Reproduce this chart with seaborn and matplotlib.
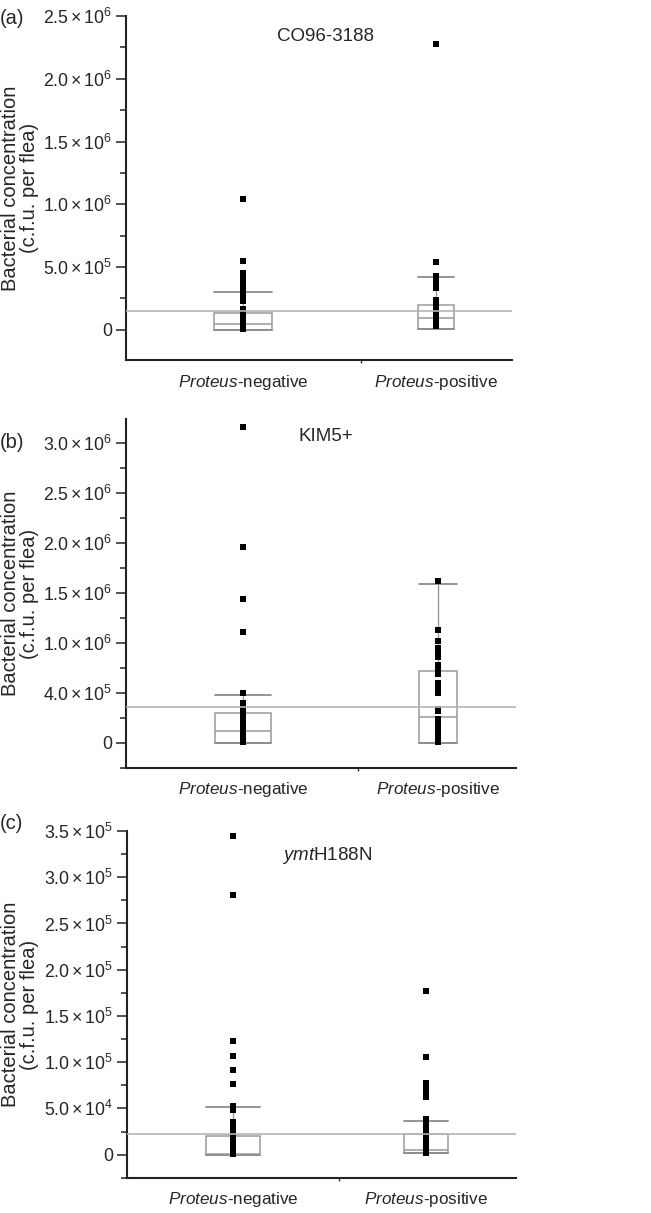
import pandas as pd
import seaborn as sns
import matplotlib.pyplot as plt
from matplotlib.ticker import FixedLocator, MultipleLocator

sns.set_style('ticks')
plt.rcParams['font.family'] = ['Liberation Sans', 'DejaVu Sans']
plt.rcParams['mathtext.fontset'] = 'custom'
plt.rcParams['mathtext.rm'] = 'Liberation Sans'
plt.rcParams['mathtext.it'] = 'Liberation Sans:italic'

groups = ['Proteus-negative', 'Proteus-positive']
group_labels = [r'$\mathit{Proteus}$-negative', r'$\mathit{Proteus}$-positive']

# (a) CO96-3188
a_neg = [1.04e6, 5.45e5, 4.5e5, 4.35e5, 4.2e5, 4.05e5, 3.9e5, 3.75e5, 3.6e5, 3.45e5, 3.3e5,
         2.9e5, 2.7e5, 2.5e5, 2.3e5, 1.7e5, 1.5e5, 1.3e5, 1.1e5, 9e4, 7e4, 5e4, 3e4, 1.5e4, 5e3]
a_pos = [2.28e6, 5.42e5, 4.3e5, 4.15e5, 4.0e5, 3.8e5, 3.6e5, 3.3e5, 2.4e5, 2.2e5, 2.0e5,
         1.7e5, 1.5e5, 1.3e5, 1.1e5, 9e4, 7e4, 5e4, 3e4]
a_q1 = [0, 1.0e4]
a_med = [5.0e4, 9.5e4]
a_q3 = [1.35e5, 2.0e5]
a_cap = [3.05e5, 4.18e5]
a_ref = 1.52e5
a_ticks = [0, 5e5, 1e6, 1.5e6, 2e6, 2.5e6]
a_ticklabels = ['0', r'$5.0\times10^{5}$', r'$1.0\times10^{6}$', r'$1.5\times10^{6}$',
                r'$2.0\times10^{6}$', r'$2.5\times10^{6}$']

# (b) KIM5+
b_neg = [3.16e6, 1.96e6, 1.44e6, 1.11e6, 5.0e5, 4.0e5, 3.7e5, 3.4e5, 3.1e5, 2.8e5, 2.5e5,
         2.2e5, 1.9e5, 1.6e5, 1.3e5, 1.0e5, 7e4, 4e4, 1e4]
b_pos = [1.62e6, 1.13e6, 1.02e6, 9.5e5, 9.0e5, 8.6e5, 7.8e5, 7.3e5, 6.9e5, 6.0e5, 5.6e5,
         5.0e5, 3.4e5, 3.2e5, 2.4e5, 2.0e5, 1.5e5, 1.1e5, 7e4, 3e4, 5e3]
b_q1 = [0, 0]
b_med = [1.17e5, 2.57e5]
b_q3 = [2.97e5, 7.17e5]
b_cap = [4.73e5, 1.59e6]
b_ref = 3.6e5
b_ticks = [0, 5e5, 1e6, 1.5e6, 2e6, 2.5e6, 3e6]
b_ticklabels = ['0', r'$4.0\times10^{5}$', r'$1.0\times10^{6}$', r'$1.5\times10^{6}$',
                r'$2.0\times10^{6}$', r'$2.5\times10^{6}$', r'$3.0\times10^{6}$']

# (c) ymtH188N
c_neg = [3.45e5, 2.81e5, 1.23e5, 1.07e5, 9.2e4, 7.6e4, 5.3e4, 4.8e4, 3.5e4, 3.2e4, 2.8e4,
         2.4e4, 2.1e4, 1.8e4, 1.5e4, 1.2e4, 9e3, 6e3, 3e3, 1e3]
c_pos = [1.77e5, 1.06e5, 7.8e4, 7.3e4, 7.0e4, 6.5e4, 6.2e4, 3.9e4, 3.6e4, 3.2e4, 2.8e4,
         2.4e4, 2.0e4, 1.6e4, 1.2e4, 8e3, 5e3, 2e3]
c_q1 = [0, 1.5e3]
c_med = [1.0e3, 4.7e3]
c_q3 = [1.98e4, 2.2e4]
c_cap = [5.16e4, 3.68e4]
c_ref = 2.27e4
c_ticks = [0, 5e4, 1e5, 1.5e5, 2e5, 2.5e5, 3e5, 3.5e5]
c_ticklabels = ['0', r'$5.0\times10^{4}$', r'$1.0\times10^{5}$', r'$1.5\times10^{5}$',
                r'$2.0\times10^{5}$', r'$2.5\times10^{5}$', r'$3.0\times10^{5}$',
                r'$3.5\times10^{5}$']

panels = [
    dict(tag='(a)', name='CO96-3188', neg=a_neg, pos=a_pos, q1=a_q1, med=a_med, q3=a_q3,
         cap=a_cap, ref=a_ref, ticks=a_ticks, labels=a_ticklabels, minor=2.5e5,
         ylim=(-2.4e5, 2.5e6), xlim=(-0.606, 1.394), widths=[0.30, 0.187], xmin=0.61,
         rect=[0.1935, 0.7032, 0.593, 0.2836], tag_y=0.985, name_xy=(0.50, 0.9695)),
    dict(tag='(b)', name='KIM5+', neg=b_neg, pos=b_pos, q1=b_q1, med=b_med, q3=b_q3,
         cap=b_cap, ref=b_ref, ticks=b_ticks, labels=b_ticklabels, minor=2.5e5,
         ylim=(-2.53e5, 3.24e6), xlim=(-0.6, 1.4), widths=[0.285, 0.193], xmin=0.59,
         rect=[0.1935, 0.3669, 0.599, 0.2877], tag_y=0.635, name_xy=(0.501, 0.640)),
    dict(tag='(c)', name=r'$\mathit{ymt}$H188N', neg=c_neg, pos=c_pos, q1=c_q1, med=c_med,
         q3=c_q3, cap=c_cap, ref=c_ref, ticks=c_ticks, labels=c_ticklabels, minor=2.5e4,
         ylim=(-2.52e4, 3.5e5), xlim=(-0.549, 1.466), widths=[0.276, 0.226], xmin=0.55,
         rect=[0.195, 0.0289, 0.598, 0.286], tag_y=0.3215, name_xy=(0.503, 0.295)),
]

fig = plt.figure(figsize=(6.51, 12.13), dpi=100)
box_grey = '#9a9a9a'

for p in panels:
    ax = fig.add_axes(p['rect'])
    df = pd.DataFrame({'group': [groups[0]] * len(p['neg']) + [groups[1]] * len(p['pos']),
                       'value': p['neg'] + p['pos']})

    stats = [dict(q1=p['q1'][i], med=p['med'][i], q3=p['q3'][i],
                  whislo=p['q1'][i], whishi=p['cap'][i], fliers=[]) for i in range(2)]
    ax.bxp(stats, positions=[0, 1], widths=p['widths'], capwidths=p['widths'],
           showfliers=False, manage_ticks=False, patch_artist=True,
           boxprops=dict(facecolor='white', edgecolor=box_grey, linewidth=1.1),
           medianprops=dict(color=box_grey, linewidth=1.1),
           whiskerprops=dict(color=box_grey, linewidth=1.0),
           capprops=dict(color='#8c8c8c', linewidth=1.3))

    sns.stripplot(data=df, x='group', y='value', order=groups, jitter=False,
                  color='black', marker='s', size=4.4, linewidth=0, ax=ax, zorder=4)

    ax.axhline(p['ref'], color='#b5b5b5', linewidth=1.2, zorder=5)

    ax.set_xlim(*p['xlim'])
    ax.set_ylim(*p['ylim'])
    ax.set_xticks([0, 1])
    ax.set_xticklabels(group_labels, fontsize=12.3)
    ax.xaxis.set_minor_locator(FixedLocator([p['xmin']]))
    ax.tick_params(axis='x', which='major', length=0, pad=9)
    ax.tick_params(axis='x', which='minor', length=2.5, width=1, color='#333333')
    ax.set_yticks(p['ticks'])
    ax.set_yticklabels(p['labels'], fontsize=12.8)
    ax.yaxis.set_minor_locator(MultipleLocator(p['minor']))
    ax.tick_params(axis='y', which='major', length=7, width=1.2, color='#333333', pad=3)
    ax.tick_params(axis='y', which='minor', length=4.5, width=1.2, color='#333333')
    ax.set_xlabel('')
    ax.set_ylabel('Bacterial concentration\n(c.f.u. per flea)', fontsize=14.5,
                  linespacing=1.0)
    # right edge of the y-label at about 39 px from the figure's left edge
    left, width = p['rect'][0], p['rect'][2]
    ax.yaxis.set_label_coords((39 / 651 - left) / width, 0.5)
    for s in ['top', 'right']:
        ax.spines[s].set_visible(False)
    for s in ['left', 'bottom']:
        ax.spines[s].set_linewidth(1.5)
        ax.spines[s].set_color('#222222')

    fig.text(0.0, p['tag_y'], p['tag'], fontsize=14.5, va='center', ha='left')
    fig.text(p['name_xy'][0], p['name_xy'][1], p['name'], fontsize=13.5, va='center',
             ha='center')

fig.savefig('out.png', dpi=100)
